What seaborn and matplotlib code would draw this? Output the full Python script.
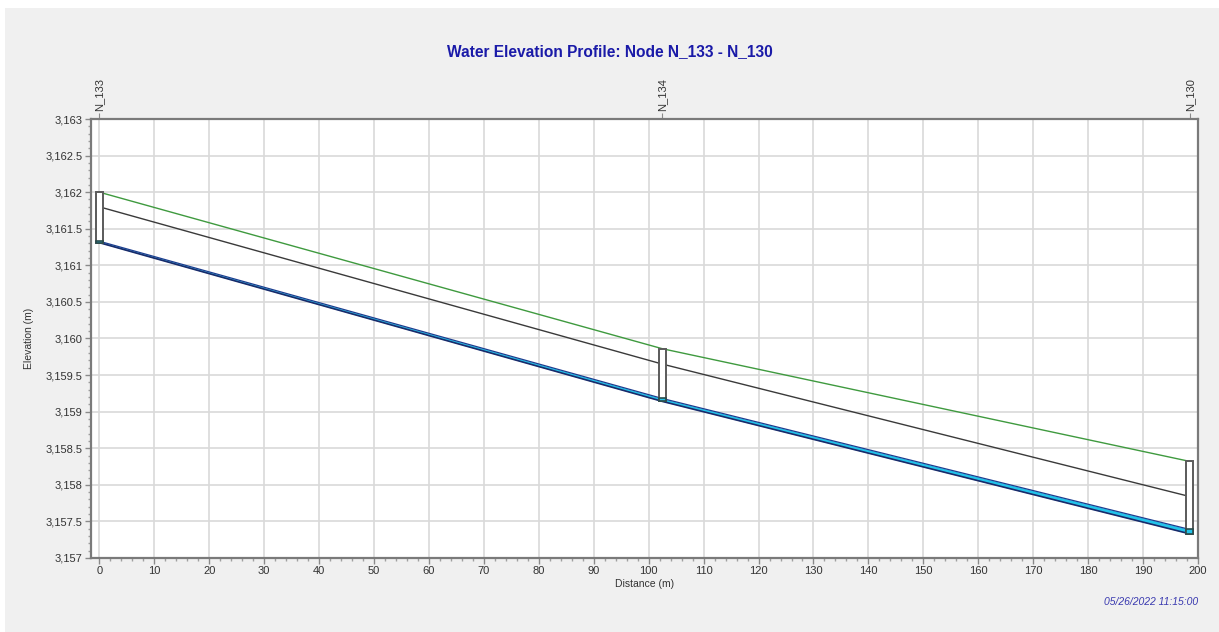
import numpy as np
import pandas as pd
import matplotlib
matplotlib.use("Agg")
import matplotlib.pyplot as plt
from matplotlib.patches import Rectangle
from matplotlib.ticker import MultipleLocator, FuncFormatter
import seaborn as sns

# Profile data: node stations along the reach and elevations (m)
node_names = ["N_133", "N_134", "N_130"]
distance = [0.0, 102.5, 198.5]
rim_elev = [3162.00, 3159.86, 3158.32]
crown_elev = [3161.80, 3159.65, 3157.84]
invert_elev = [3161.31, 3159.14, 3157.33]
water_elev = [3161.33, 3159.18, 3157.39]

title_text = "Water Elevation Profile: Node N_133 - N_130"
timestamp_text = "05/26/2022 11:15:00"

sns.set_style("white")
plt.rcParams["font.family"] = ["Liberation Sans", "DejaVu Sans"]

df = pd.DataFrame({
    "distance": distance,
    "rim": rim_elev,
    "crown": crown_elev,
    "invert": invert_elev,
    "water": water_elev,
})

fig = plt.figure(figsize=(12.19, 6.32), dpi=100, facecolor="white")
# grey panel behind the chart
fig.patches.append(Rectangle((5 / 1219, 0), 1 - 5 / 1219, 1 - 8 / 632,
                             transform=fig.transFigure, facecolor="#f0f0f0",
                             edgecolor="none", zorder=-10))

ax = fig.add_axes([0.0747, 0.1171, 0.9828 - 0.0747, 0.8117 - 0.1171])
ax.set_facecolor("white")

# water in the conduit
ax.fill_between(df["distance"], df["invert"], df["water"], color="#22c3ea",
                linewidth=0, zorder=3)
sns.lineplot(data=df, x="distance", y="water", ax=ax, color="#1d3d8f",
             linewidth=0.9, zorder=4)
sns.lineplot(data=df, x="distance", y="invert", ax=ax, color="#1a2a6a",
             linewidth=1.2, zorder=4)
# conduit crown and ground surface
sns.lineplot(data=df, x="distance", y="crown", ax=ax, color="#3a3a3a",
             linewidth=1.0, zorder=4)
sns.lineplot(data=df, x="distance", y="rim", ax=ax, color="#3f9a3f",
             linewidth=1.0, zorder=4)

# manholes drawn from invert up to rim
box_w = 1.3
ax.bar(df["distance"], df["rim"] - df["invert"], bottom=df["invert"],
       width=box_w, color="white", edgecolor="#5a5a5a", linewidth=1.4, zorder=5)
ax.bar(df["distance"], df["water"] - df["invert"], bottom=df["invert"],
       width=box_w, color="#22c3ea", edgecolor="#2a4a4a", linewidth=1.2, zorder=6)

ax.set_xlim(-1.5, 200)
ax.set_ylim(3157, 3163)
ax.xaxis.set_major_locator(MultipleLocator(10))
ax.xaxis.set_minor_locator(MultipleLocator(2))
ax.yaxis.set_major_locator(MultipleLocator(0.5))
ax.yaxis.set_minor_locator(MultipleLocator(0.1))


def elev_fmt(v, pos):
    s = f"{v:,.1f}"
    return s[:-2] if s.endswith(".0") else s


ax.yaxis.set_major_formatter(FuncFormatter(elev_fmt))
ax.grid(True, which="major", color="#d9d9d9", linewidth=1.2, zorder=0)
ax.set_axisbelow(True)

for sp in ax.spines.values():
    sp.set_color("#7a7a7a")
    sp.set_linewidth(1.6)

ax.tick_params(axis="both", which="major", direction="out", length=4,
               width=1, color="#8a8a8a", labelsize=8, labelcolor="#333333",
               bottom=True, left=True, pad=2)
ax.tick_params(axis="both", which="minor", direction="out", length=2.5,
               width=1, color="#a0a0a0", bottom=True, left=True)

ax.set_xlabel("Distance (m)", fontsize=7.5, color="#333333", labelpad=2)
ax.set_ylabel("Elevation (m)", fontsize=7.5, color="#333333", labelpad=8)

# node labels on the top axis
top = ax.secondary_xaxis("top")
top.set_xticks(distance)
top.set_xticklabels(node_names, rotation=90, fontsize=8, color="#333333")
top.tick_params(length=4, color="#8a8a8a", pad=2)
top.spines["top"].set_visible(False)

fig.text(0.5, 0.918, title_text, ha="center", va="center", fontsize=11.2,
         fontweight="bold", color="#1a1aa8")
fig.text(0.9825, 0.047, timestamp_text, ha="right", va="center", fontsize=7.5,
         fontstyle="italic", color="#3a3ab0")

fig.savefig("out.png", dpi=100, facecolor=fig.get_facecolor())
